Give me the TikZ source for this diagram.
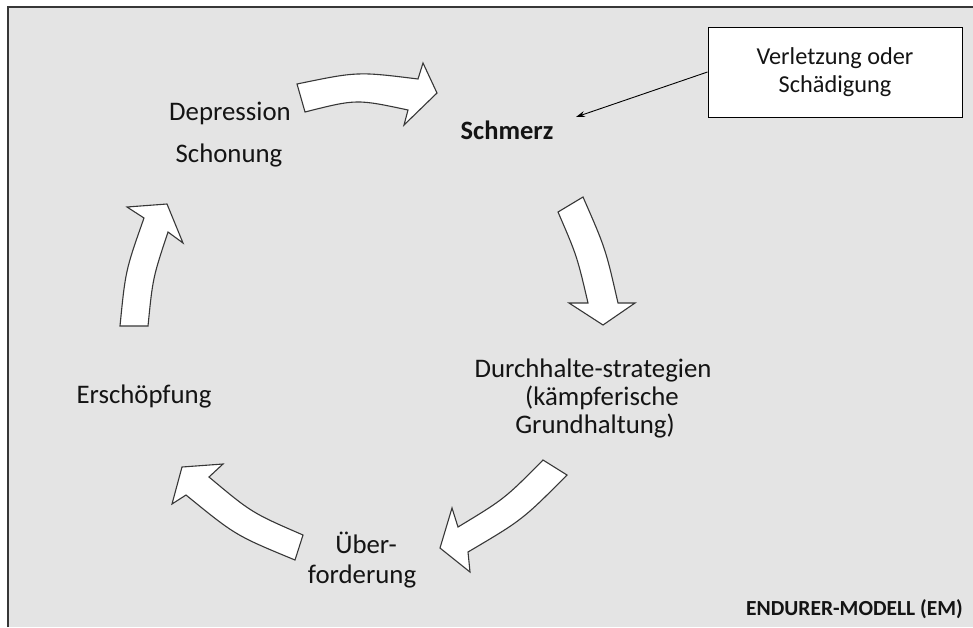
\documentclass[tikz,border=0pt]{standalone}
\usepackage{fontspec}
\setmainfont{Carlito}
\usetikzlibrary{arrows.meta}
\definecolor{bgc}{RGB}{228,228,228}
\definecolor{edgec}{RGB}{55,55,55}
\definecolor{txt}{RGB}{20,20,20}
\begin{document}
\begin{tikzpicture}[x=1pt,y=-1pt,
  lbl/.style={font=\fontsize{26.8}{30}\selectfont, text=txt, inner sep=0pt, anchor=base},
  blk/.style={fill=white, draw=edgec, line width=1.1pt, line join=miter},
  framebox/.style={draw=black, fill=white, line width=1pt, minimum width=254pt, minimum height=90pt,
    inner sep=0pt, align=center, font=\fontsize{24.3}{28}\selectfont, text=txt},
]
\useasboundingbox (0,0) rectangle (973,627);
\fill[bgc] (8,7) rectangle (973,627);
\draw[edgec, line width=1.5pt] (8,627) -- (8,7) -- (973,7);

% block arrows
\draw[blk] (297,84) .. controls (357.5,71.5) .. (418,79) -- (423,63) -- (437,93) -- (404,125)
  -- (408,110) .. controls (356.5,99) .. (305,112) -- cycle;
\draw[blk] (558,212) -- (583,197) .. controls (605.5,248.4) .. (618,303) -- (635,303) -- (603,325)
  -- (569,303) -- (588,303) .. controls (577,256) .. (558,212) -- cycle;
\draw[blk] (543,460) -- (567,475) .. controls (522.5,519.8) .. (468,552) -- (470,572) -- (440,548)
  -- (452,508) -- (458,527) .. controls (504.6,498.8) .. (543,460) -- cycle;
\draw[blk] (303,535) -- (295,560) .. controls (235.5,535.4) .. (186,495) -- (172,504) -- (182,467)
  -- (223,464) -- (209,477) .. controls (251.8,512.8) .. (303,535) -- cycle;
\draw[blk] (120,326) -- (148,326) .. controls (152.8,277.9) .. (168,232) -- (183,243) -- (167,204)
  -- (127,207) -- (144,218) .. controls (125.5,270.5) .. (120,326) -- cycle;

% texts
\node[lbl] (dep) at (230,120) {Depression};
\node[lbl] (schon) at (229,162) {Schonung};
\node[lbl, font=\bfseries\fontsize{26.5}{30}\selectfont] (schmerz) at (507,139) {Schmerz};
\node[lbl] (dur1) at (593,377) {Durchhalte-strategien};
\node[lbl] (dur2) at (602,405) {(kämpferische};
\node[lbl] (dur3) at (595,433) {Grundhaltung)};
\node[lbl] (ersch) at (144,403) {Erschöpfung};
\node[lbl] (ueb1) at (366,553) {Über-};
\node[lbl] (ueb2) at (362,583) {forderung};
\node[lbl, anchor=base east, font=\bfseries\fontsize{21.5}{25}\selectfont] (em) at (963,615) {ENDURER-MODELL (EM)};

\node[framebox] (verl) at (835,72) {Verletzung oder\\Schädigung};
\coordinate (tipS) at (576,117);
\draw[line width=0.9pt, -{Stealth[length=9pt,width=6pt]}] (verl.west) -- (tipS);
\end{tikzpicture}
\end{document}
